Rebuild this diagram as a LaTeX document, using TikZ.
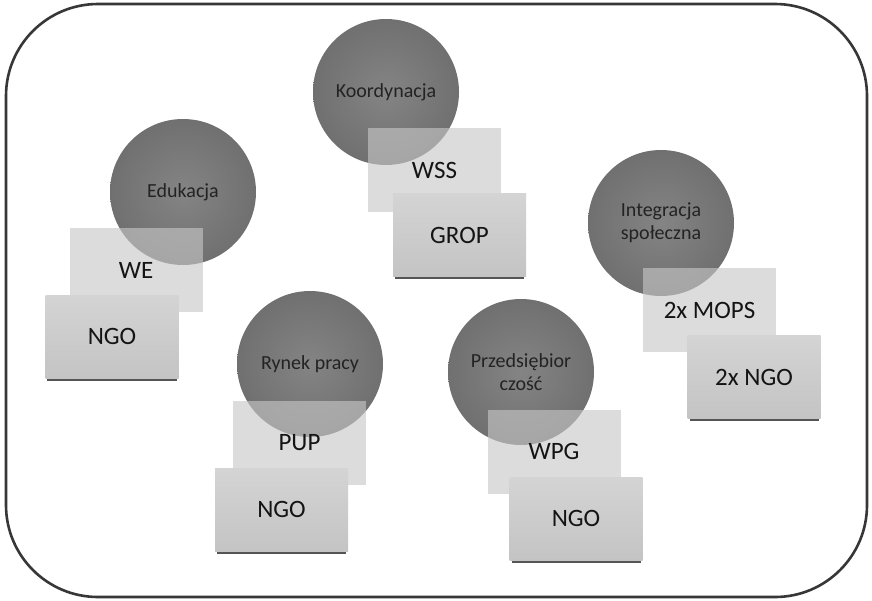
\documentclass[tikz,border=0pt]{standalone}
\usepackage{fontspec}
\setmainfont{Carlito}
\usetikzlibrary{shadows}
\definecolor{framec}{RGB}{55,55,55}
\definecolor{circin}{RGB}{132,132,132}
\definecolor{circout}{RGB}{112,112,112}
\definecolor{lightbox}{RGB}{200,200,200}
\definecolor{darktop}{RGB}{212,212,212}
\definecolor{darkbot}{RGB}{196,196,196}
\definecolor{shadowc}{RGB}{85,85,85}
\definecolor{ctext}{RGB}{35,35,35}
\definecolor{btext}{RGB}{20,20,20}
\tikzset{
  topic/.style={circle, minimum size=146pt, inner sep=0pt, shading=radial,
    inner color=circin, outer color=circout, text=ctext, align=center,
    font=\fontsize{20}{23}\selectfont},
  lbox/.style={rectangle, minimum width=133pt, minimum height=84pt, inner sep=0pt,
    fill=lightbox, fill opacity=0.62, text opacity=1, text=btext,
    font=\fontsize{25}{30}\selectfont},
  dbox/.style={rectangle, minimum width=133pt, minimum height=83pt, inner sep=0pt,
    top color=darktop, bottom color=darkbot, text=btext,
    drop shadow={shadow xshift=0pt, shadow yshift=-4pt, shadow scale=0.97, opacity=1, fill=shadowc},
    font=\fontsize{25}{30}\selectfont},
}
\begin{document}
\begin{tikzpicture}[x=1pt, y=-1pt]
\useasboundingbox (0,0) rectangle (872,600);
\fill[white] (0,0) rectangle (872,600);
\draw[framec, line width=2.6pt, rounded corners=92pt] (6,4) rectangle (867,597);

% circles
\node[topic] (edu) at (183,192) {Edukacja};
\node[topic] (koo) at (386,92) {Koordynacja};
\node[topic] (int) at (661,223) {Integracja\\społeczna};
\node[topic] (ryn) at (310,364) {Rynek pracy};
\node[topic] (prz) at (521,372) {Przedsiębior\\czość};

% light boxes
\node[lbox] (we) at (136,270) {WE};
\node[lbox] (wss) at (434.5,170) {WSS};
\node[lbox] (mops) at (709.5,310) {2x MOPS};
\node[lbox] (pup) at (299.5,442.5) {PUP};
\node[lbox] (wpg) at (554,451.5) {WPG};

% dark boxes
\node[dbox] (ngoa) at (112,336.5) {NGO};
\node[dbox] (grop) at (459.5,235) {GROP};
\node[dbox] (ngob) at (754,377) {2x NGO};
\node[dbox] (ngoc) at (281.5,509.5) {NGO};
\node[dbox] (ngod) at (576,518.5) {NGO};
\end{tikzpicture}
\end{document}
